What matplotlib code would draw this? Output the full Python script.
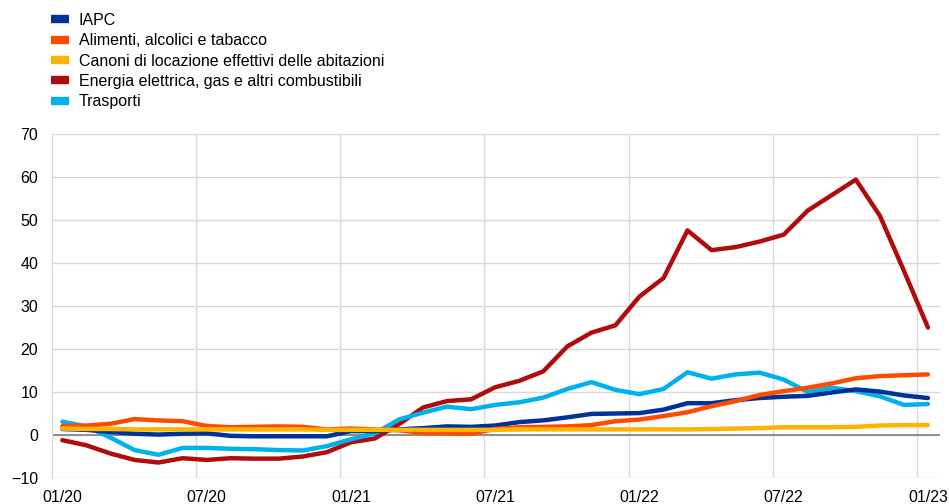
import matplotlib
matplotlib.use("Agg")
import matplotlib.pyplot as plt
from matplotlib.lines import Line2D
from matplotlib.ticker import FixedLocator

plt.rcParams['font.family'] = ['Liberation Sans', 'DejaVu Sans']

tick_labels = ["01/20", "07/20", "01/21", "07/21", "01/22", "07/22", "01/23"]

iapc = [1.4, 1.2, 0.7, 0.3, 0.1, 0.3, 0.4, -0.2, -0.3, -0.3, -0.3, -0.3,
        0.9, 0.9, 1.3, 1.6, 2.0, 1.9, 2.2, 3.0, 3.4, 4.1, 4.9, 5.0,
        5.1, 5.9, 7.4, 7.4, 8.1, 8.6, 8.9, 9.1, 9.9, 10.6, 10.1, 9.2, 8.6]
alimenti = [2.1, 2.2, 2.6, 3.7, 3.4, 3.2, 2.1, 1.8, 1.9, 2.0, 1.9, 1.3,
            1.5, 1.3, 1.1, 0.5, 0.4, 0.3, 1.4, 1.8, 1.9, 2.0, 2.3, 3.2,
            3.6, 4.4, 5.3, 6.7, 7.9, 9.3, 10.2, 11.0, 12.0, 13.2, 13.7, 13.9, 14.1]
canoni = [1.5, 1.4, 1.4, 1.3, 1.3, 1.3, 1.3, 1.3, 1.3, 1.3, 1.3, 1.2,
          1.2, 1.2, 1.2, 1.2, 1.2, 1.2, 1.2, 1.3, 1.3, 1.3, 1.3, 1.3,
          1.3, 1.3, 1.3, 1.4, 1.5, 1.6, 1.8, 1.8, 1.8, 1.9, 2.2, 2.3, 2.3]
energia = [-1.2, -2.4, -4.3, -5.8, -6.4, -5.4, -5.8, -5.4, -5.5, -5.5, -5.0, -4.0,
           -1.7, -0.8, 2.5, 6.4, 7.9, 8.3, 11.1, 12.6, 14.8, 20.6, 23.8, 25.5,
           32.2, 36.5, 47.6, 43.0, 43.7, 45.0, 46.6, 52.2, 55.8, 59.4, 51.0, 38.2, 25.0]
trasporti = [3.1, 2.0, -0.6, -3.5, -4.6, -3.0, -3.0, -3.2, -3.3, -3.5, -3.6, -2.6,
             -1.0, 0.4, 3.6, 5.2, 6.6, 6.0, 7.0, 7.6, 8.7, 10.7, 12.3, 10.5,
             9.5, 10.7, 14.6, 13.1, 14.1, 14.5, 12.9, 10.0, 11.0, 10.2, 9.0, 7.0, 7.2]

series = [
    ("IAPC", iapc, "#003299"),
    ("Alimenti, alcolici e tabacco", alimenti, "#ff4b00"),
    ("Canoni di locazione effettivi delle abitazioni", canoni, "#ffb400"),
    ("Energia elettrica, gas e altri combustibili", energia, "#b00c0c"),
    ("Trasporti", trasporti, "#00b1ea"),
]

fig = plt.figure(figsize=(9.49, 5.04), dpi=100)
ax = fig.add_axes([0.0548, 0.0516, 0.9357, 0.6824])

x = list(range(len(iapc)))
# draw order: energy, transport, iapc, food, rent
order = [3, 4, 0, 1, 2]
for z, idx in enumerate(order):
    name, vals, col = series[idx]
    ax.plot(x, vals, color=col, lw=3.2, solid_capstyle='round',
            solid_joinstyle='round', zorder=3 + z)

ax.set_ylim(-10, 70)
ax.set_yticks(range(-10, 71, 10))
ax.set_xlim(-0.43, 36.5)
ax.set_xticks(range(0, 37, 6))
ax.set_xticklabels(tick_labels)
ax.xaxis.set_minor_locator(FixedLocator([-0.45 + 6 * k for k in range(1, 7)]))
ax.grid(axis='y', color='#d9d9d9', lw=1)
ax.grid(axis='x', which='minor', color='#d9d9d9', lw=1)
ax.axhline(0, color='#808080', lw=1.2, zorder=2)
ax.set_axisbelow(True)
for s in ['top', 'right', 'bottom']:
    ax.spines[s].set_visible(False)
ax.spines['left'].set_color('#d9d9d9')
ax.tick_params(axis='both', which='both', length=0, labelsize=11.5, colors='black')
ax.tick_params(axis='x', pad=9)
ax.tick_params(axis='y', pad=10)

handles = [Line2D([0], [0], color=c, lw=6, solid_capstyle='butt') for _, _, c in series]
labels = [n for n, _, _ in series]
fig.legend(handles, labels, loc='upper left', bbox_to_anchor=(0.042, 0.997),
           frameon=False, fontsize=11.5, handlelength=1.1, handletextpad=0.65,
           labelspacing=0.34, borderaxespad=0.3)

fig.savefig("out.png", dpi=100)
